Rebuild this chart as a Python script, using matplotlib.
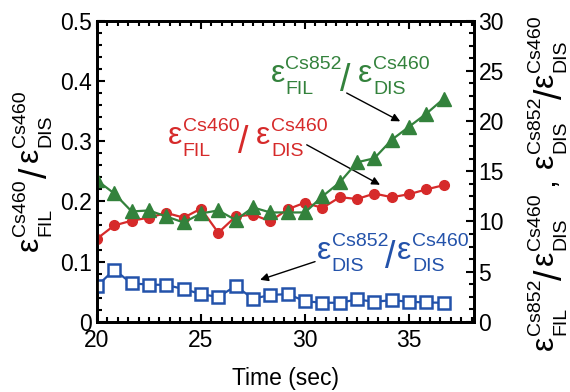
import numpy as np
import matplotlib
matplotlib.use("Agg")
import matplotlib.pyplot as plt
from matplotlib.ticker import MultipleLocator
from matplotlib.transforms import offset_copy
from matplotlib.textpath import TextToPath
from matplotlib.font_manager import FontProperties

plt.rcParams['font.family'] = ['Liberation Sans', 'DejaVu Sans']

# time axis (sec)
time = [20.0, 20.83, 21.67, 22.5, 23.33, 24.17, 25.0, 25.83, 26.67, 27.5, 28.33,
        29.17, 30.0, 30.83, 31.67, 32.5, 33.33, 34.17, 35.0, 35.83, 36.67]

# eps_FIL(Cs460) / eps_DIS(Cs460)  -> left axis
fil460 = [0.138, 0.160, 0.168, 0.173, 0.181, 0.173, 0.188, 0.148, 0.175, 0.178, 0.167,
          0.187, 0.198, 0.189, 0.207, 0.204, 0.213, 0.207, 0.212, 0.220, 0.227]

# eps_FIL(Cs852) / eps_DIS(Cs460)  -> right axis
fil852 = [14.1, 12.8, 11.0, 11.1, 10.5, 9.9, 10.8, 11.1, 10.15, 11.4, 10.9,
          10.9, 10.9, 12.5, 13.9, 15.9, 16.3, 18.15, 19.45, 20.75, 22.25]

# eps_DIS(Cs852) / eps_DIS(Cs460)  -> right axis
dis852 = [3.55, 5.2, 3.82, 3.72, 3.67, 3.27, 2.76, 2.48, 3.57, 2.3, 2.68,
          2.76, 2.06, 1.9, 1.9, 2.23, 2.0, 2.16, 2.0, 1.93, 1.9]

red = '#d62a2a'
green = '#33823c'
blue = '#2352aa'

W, H = 570, 392
fig = plt.figure(figsize=(W / 100, H / 100), dpi=100)
ax = fig.add_axes([0.170, 0.179, 0.661, 0.768])
ax2 = ax.twinx()

ax.plot(time, fil460, 'o-', color=red, lw=1.6, markersize=7, zorder=3)
ax2.plot(time, fil852, '^-', color=green, lw=1.6, markersize=10.5)
ax2.plot(time, dis852, 's-', color=blue, lw=1.6, markersize=8,
         markerfacecolor='white', markeredgewidth=1.8)

ax.set_xlim(20, 38.1)
ax.set_ylim(0, 0.5)
ax2.set_ylim(0, 30)

ax.set_xticks([20, 25, 30, 35])
ax.xaxis.set_minor_locator(MultipleLocator(0.5))
ax.set_yticks([0, 0.1, 0.2, 0.3, 0.4, 0.5])
ax.set_yticklabels(['0', '0.1', '0.2', '0.3', '0.4', '0.5'])
ax.yaxis.set_minor_locator(MultipleLocator(0.02))
ax2.set_yticks([0, 5, 10, 15, 20, 25, 30])
ax2.yaxis.set_minor_locator(MultipleLocator(1.25))

ax.tick_params(which='both', direction='in', top=True, width=1.5, labelsize=16.5)
ax.tick_params(which='major', length=6)
ax.tick_params(which='minor', length=3.5)
ax.tick_params(axis='x', pad=5)
ax.tick_params(axis='y', right=False)
ax2.tick_params(which='both', direction='in', width=1.5, labelsize=16.5)
ax2.tick_params(which='major', length=6)
ax2.tick_params(which='minor', length=3.5)
for a in (ax, ax2):
    for s in a.spines.values():
        s.set_linewidth(2)

ax.set_xlabel('Time (sec)', fontsize=16.5, labelpad=11)

# ---- epsilon ratio labels, built piece by piece ----
t2p = TextToPath()
EPS, SCR, SL = 23, 14, 27


def tw(s, size):
    fp = FontProperties(family='Liberation Sans', size=size)
    w, h, d = t2p.get_text_width_height_descent(s, fp, ismath=False)
    return w


def eps_label(px, py, tokens, color, rot=0):
    # px, py: pixel position (from top-left) of label centre on the epsilon baseline
    base = fig.transFigure
    x0, y0 = px / W, 1 - py / H
    items = []
    cur = 0.0
    for tok in tokens:
        if tok[0] == 'eps':
            sup, sub = tok[1], tok[2]
            items.append(('ε', EPS, cur, 0))
            cur += tw('ε', EPS) + 0.6
            items.append((sup, SCR, cur, 9.4))
            items.append((sub, SCR, cur, -8.6))
            cur += max(tw(sup, SCR), tw(sub, SCR))
        elif tok[0] == 'slash':
            cur += tok[1]
            items.append(('/', SL, cur, -6.2))
            cur += tw('/', SL) + tok[2]
        elif tok[0] == 'comma':
            cur += 6
            items.append((',', EPS, cur, 0))
            cur += tw(',', EPS) + 6
    start = -cur / 2
    for s, size, u, v in items:
        u = u + start
        if rot == 0:
            dx, dy = u, v
        else:
            dx, dy = -v, u
        tr = offset_copy(base, fig=fig, x=dx, y=dy, units='points')
        fig.text(x0, y0, s, transform=tr, fontsize=size, color=color,
                 ha='left', va='baseline', rotation=rot, rotation_mode='anchor')


eps_label(350, 82, [('eps', 'Cs852', 'FIL'), ('slash', -1.0, 5.5), ('eps', 'Cs460', 'DIS')], green)
eps_label(247.5, 144, [('eps', 'Cs460', 'FIL'), ('slash', -0.5, 5.5), ('eps', 'Cs460', 'DIS')], red)
eps_label(392.5, 259, [('eps', 'Cs852', 'DIS'), ('slash', -2.0, 1.0), ('eps', 'Cs460', 'DIS')], blue)

eps_label(38, 171, [('eps', 'Cs460', 'FIL'), ('slash', 1.5, 3.5), ('eps', 'Cs460', 'DIS')], 'black', rot=90)
eps_label(553, 183, [('eps', 'Cs852', 'FIL'), ('slash', -0.5, 3.0), ('eps', 'Cs460', 'DIS'),
                     ('comma',),
                     ('eps', 'Cs852', 'DIS'), ('slash', -1.0, 1.0), ('eps', 'Cs460', 'DIS')],
          'black', rot=90)

arrow = dict(arrowstyle='-|>', color='black', lw=1, mutation_scale=12, shrinkA=0, shrinkB=0)
ax.annotate('', xy=(34.57, 0.333), xytext=(32.0, 0.380), arrowprops=arrow)
ax.annotate('', xy=(33.6, 0.2276), xytext=(30.08, 0.294), arrowprops=arrow)
ax.annotate('', xy=(27.84, 0.0698), xytext=(30.48, 0.100), arrowprops=arrow)

fig.savefig('out.png', dpi=100)
